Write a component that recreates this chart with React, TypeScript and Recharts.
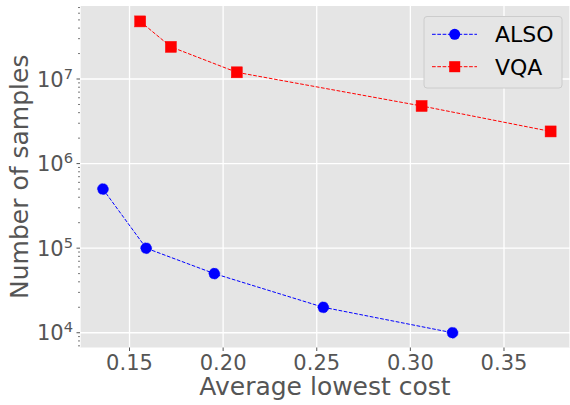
import React from 'react';
import { LineChart, Line, XAxis, YAxis, CartesianGrid, ReferenceLine } from 'recharts';

const alsoCost = [0.1358, 0.1589, 0.1953, 0.2535, 0.3225];
const alsoSamples = [5e5, 1e5, 5e4, 2e4, 1e4];
const vqaCost = [0.1557, 0.1721, 0.2073, 0.306, 0.3749];
const vqaSamples = [4.8e7, 2.4e7, 1.2e7, 4.8e6, 2.4e6];

const xTicks = [0.15, 0.2, 0.25, 0.3, 0.35];
const yMajor = [1e4, 1e5, 1e6, 1e7];
const xDomain = [0.12356, 0.38525];
const yDomain = [6690, 7.3e7];

const seriesNames = ['ALSO', 'VQA'];
const seriesColors = ['#0000ff', '#ff0000'];

const alsoData = alsoCost.map((c, i) => ({ cost: c, samples: alsoSamples[i] }));
const vqaData = vqaCost.map((c, i) => ({ cost: c, samples: vqaSamples[i] }));

const yTicks: number[] = [];
for (let e = 3; e <= 7; e++) {
  for (let m = 1; m <= 9; m++) {
    const v = m * Math.pow(10, e);
    if (v >= yDomain[0] && v <= yDomain[1]) yTicks.push(v);
  }
}

const FONT = '"DejaVu Sans", sans-serif';
const TICK_COLOR = '#555555';

const XTick = (props: any) => {
  const { x, y, payload } = props;
  return (
    <g>
      <line x1={x} x2={x} y1={y} y2={y + 3.5} stroke={TICK_COLOR} strokeWidth={1} />
      <text x={x} y={y + 22.5} textAnchor="middle" fontSize={21} fontFamily={FONT} fill={TICK_COLOR}>
        {Number(payload.value).toFixed(2)}
      </text>
    </g>
  );
};

const YTick = (props: any) => {
  const { x, y, payload } = props;
  const v = payload.value as number;
  const exp = Math.round(Math.log10(v));
  const isMajor = Math.abs(Math.pow(10, exp) - v) / v < 1e-6;
  if (!isMajor) {
    return <line x1={x - 2} x2={x} y1={y} y2={y} stroke={TICK_COLOR} strokeWidth={0.8} />;
  }
  return (
    <g>
      <line x1={x - 3.5} x2={x} y1={y} y2={y} stroke={TICK_COLOR} strokeWidth={1} />
      <text x={x - 7} y={y + 7.5} textAnchor="end" fontFamily={FONT} fill={TICK_COLOR}>
        <tspan fontSize={21}>10</tspan>
        <tspan fontSize={14.7} dy={-8}>{exp}</tspan>
      </text>
    </g>
  );
};

const SquareDot = (props: any) => {
  const { cx, cy } = props;
  if (cx == null || cy == null) return null;
  return <rect x={cx - 5.5} y={cy - 5.5} width={11} height={11} fill="#ff0000" stroke="#ff0000" strokeWidth={0.5} />;
};

const XLabel = (props: any) => {
  const vb = props.viewBox || { x: 80, y: 347.5, width: 490, height: 57.5 };
  return (
    <text x={vb.x + vb.width / 2} y={395} textAnchor="middle" fontSize={25} fontFamily={FONT} fill={TICK_COLOR}>
      Average lowest cost
    </text>
  );
};

const YLabel = (props: any) => {
  const vb = props.viewBox || { x: 0, y: 6, width: 80, height: 341.5 };
  const cy = vb.y + vb.height / 2;
  return (
    <text transform={`translate(28, ${cy}) rotate(-90)`} textAnchor="middle" fontSize={25} fontFamily={FONT} fill={TICK_COLOR}>
      Number of samples
    </text>
  );
};

const LegendBox = () => (
  <svg width={570} height={405} style={{ position: 'absolute', left: 0, top: 0, pointerEvents: 'none' }}>
    <rect x={424} y={16.5} width={138} height={71.5} rx={3} fill="#e5e5e5" stroke="#cccccc" strokeWidth={1} />
    {seriesNames.map((name, i) => {
      const y = 34.3 + i * 32.4;
      const color = seriesColors[i];
      return (
        <g key={name}>
          <line x1={432} x2={477} y1={y} y2={y} stroke={color} strokeWidth={1} strokeDasharray="3.7 1.6" />
          {i === 0 ? (
            <circle cx={454.7} cy={y} r={5.5} fill={color} />
          ) : (
            <rect x={454.7 - 5.5} y={y - 5.5} width={11} height={11} fill={color} />
          )}
          <text x={495} y={y + 8} fontSize={22} fontFamily={FONT} fill="#000000">
            {name}
          </text>
        </g>
      );
    })}
  </svg>
);

export default function App() {
  return (
    <div style={{ position: 'absolute', left: 0, top: 0, width: 570, height: 405, background: '#ffffff' }}>
      <LineChart width={570} height={405} margin={{ top: 6, right: 0, bottom: 0, left: 0 }}>
        <CartesianGrid fill="#e5e5e5" horizontal={false} vertical={true} stroke="#ffffff" strokeWidth={1.3} />
        <XAxis
          dataKey="cost"
          type="number"
          domain={xDomain}
          ticks={xTicks}
          allowDataOverflow
          height={57.5}
          axisLine={false}
          tickLine={false}
          tickSize={0}
          tickMargin={0}
          tick={<XTick />}
          interval={0}
          label={<XLabel />}
        />
        <YAxis
          dataKey="samples"
          type="number"
          scale="log"
          domain={yDomain}
          ticks={yTicks}
          allowDataOverflow
          width={80}
          axisLine={false}
          tickLine={false}
          tickSize={0}
          tickMargin={0}
          tick={<YTick />}
          interval={0}
          label={<YLabel />}
        />
        {yMajor.map((v) => (
          <ReferenceLine key={v} y={v} stroke="#ffffff" strokeWidth={1.3} />
        ))}
        <Line
          data={alsoData}
          dataKey="samples"
          stroke={seriesColors[0]}
          strokeWidth={1}
          strokeDasharray="3.7 1.6"
          dot={{ r: 5.5, fill: seriesColors[0], stroke: seriesColors[0], strokeWidth: 0.5 }}
          activeDot={false}
          isAnimationActive={false}
        />
        <Line
          data={vqaData}
          dataKey="samples"
          stroke={seriesColors[1]}
          strokeWidth={1}
          strokeDasharray="3.7 1.6"
          dot={<SquareDot />}
          activeDot={false}
          isAnimationActive={false}
        />
      </LineChart>
      <LegendBox />
    </div>
  );
}
